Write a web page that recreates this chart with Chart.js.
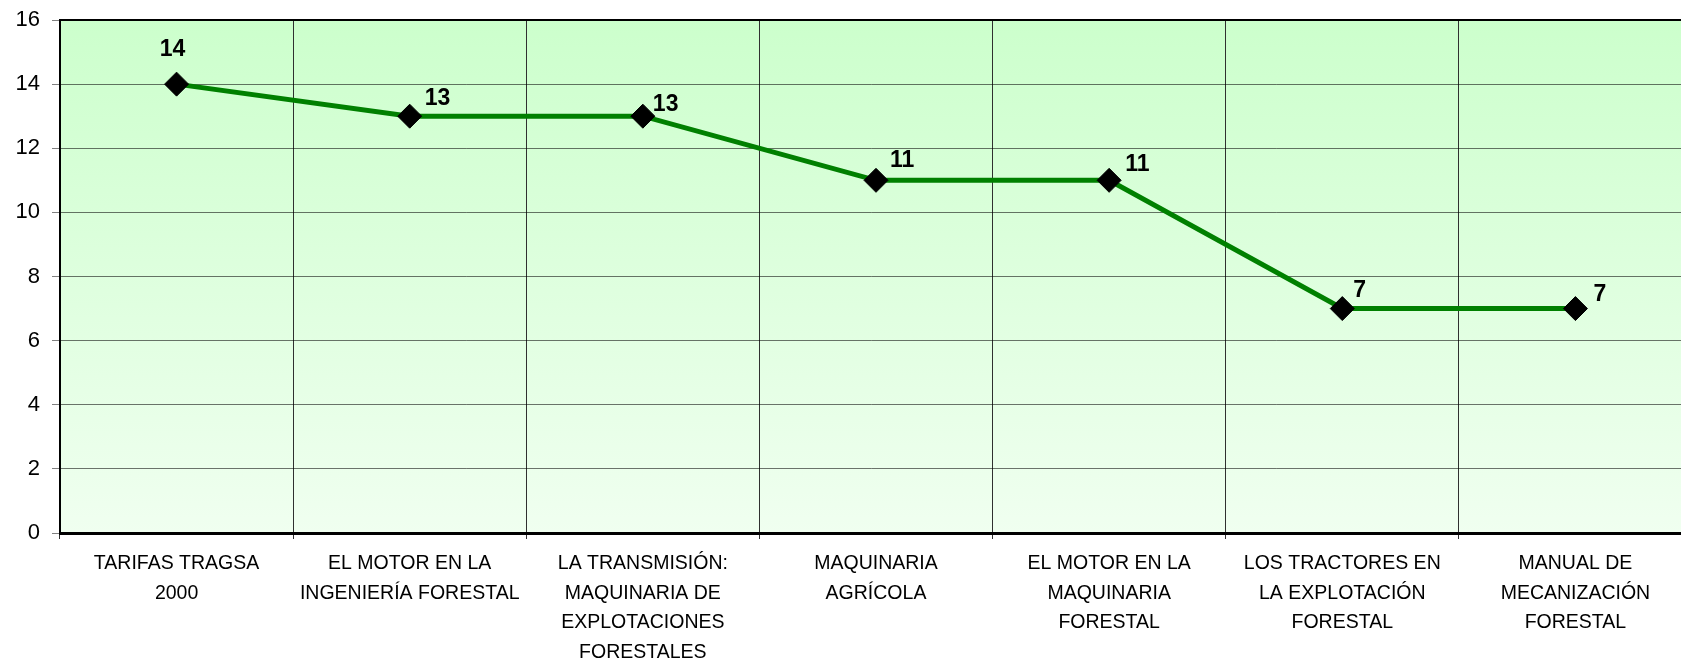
<!DOCTYPE html>
<html>
<head>
<meta charset="utf-8">
<script src="https://cdn.jsdelivr.net/npm/chart.js@4"></script>
<style>
  html, body { margin: 0; padding: 0; background: #fff; overflow: hidden; }
  #graphique { display: block; width: 1681px; height: 666px; }
</style>
</head>
<body>
<canvas id="graphique" width="1681" height="666"></canvas>
<script>
  const categorias = [
    ["TARIFAS TRAGSA", "2000"],
    ["EL MOTOR EN LA", "INGENIERÍA FORESTAL"],
    ["LA TRANSMISIÓN:", "MAQUINARIA DE", "EXPLOTACIONES", "FORESTALES"],
    ["MAQUINARIA", "AGRÍCOLA"],
    ["EL MOTOR EN LA", "MAQUINARIA", "FORESTAL"],
    ["LOS TRACTORES EN", "LA EXPLOTACIÓN", "FORESTAL"],
    ["MANUAL DE", "MECANIZACIÓN", "FORESTAL"]
  ];
  const valores = [14, 13, 13, 11, 11, 7, 7];
  const ticksY = [0, 2, 4, 6, 8, 10, 12, 14, 16];

  // el área de trazado original sigue más allá del borde derecho (recortada)
  const recorte = {
    id: "recorte",
    afterLayout(chart, args, opts) {
      const x = chart.scales.x;
      const w = opts.ancho;
      x.right = x.left + w;
      x.width = w;
      chart.chartArea.right = x.right;
      chart.chartArea.width = w;
      x.configure();
    }
  };

  // fondo degradado y borde superior del área de trazado
  const fondo = {
    id: "fondo",
    beforeDraw(chart) {
      const { ctx, chartArea: a } = chart;
      const g = ctx.createLinearGradient(0, a.top, 0, a.bottom);
      g.addColorStop(0, "#ccffcc");
      g.addColorStop(1, "#f0fff0");
      ctx.save();
      ctx.fillStyle = g;
      ctx.fillRect(a.left, a.top, a.right - a.left, a.bottom - a.top);
      ctx.restore();
    },
    afterDraw(chart) {
      const { ctx, chartArea: a } = chart;
      ctx.save();
      ctx.strokeStyle = "#000";
      ctx.lineWidth = 2;
      ctx.beginPath();
      ctx.moveTo(a.left, a.top);
      ctx.lineTo(a.right, a.top);
      ctx.stroke();
      ctx.restore();
    }
  };

  // etiquetas de valor junto a cada punto
  const etiquetas = {
    id: "etiquetas",
    afterDatasetsDraw(chart, args, opts) {
      const { ctx } = chart;
      const meta = chart.getDatasetMeta(0);
      ctx.save();
      ctx.font = "bold 23px 'Liberation Sans', Arial, sans-serif";
      ctx.fillStyle = "#000";
      ctx.textBaseline = "middle";
      meta.data.forEach((p, i) => {
        const o = opts.offsets[i];
        ctx.textAlign = o[2];
        ctx.fillText(String(valores[i]), p.x + o[0], p.y + o[1]);
      });
      ctx.restore();
    }
  };

  const ctx = document.getElementById("graphique").getContext("2d");
  new Chart(ctx, {
    type: "line",
    data: {
      labels: categorias,
      datasets: [{
        data: valores,
        borderColor: "#008000",
        borderWidth: 5,
        pointStyle: "rectRot",
        pointRadius: 12,
        pointBackgroundColor: "#000",
        pointBorderColor: "#000",
        pointBorderWidth: 1,
        tension: 0,
        fill: false
      }]
    },
    options: {
      responsive: false,
      animation: false,
      devicePixelRatio: 1,
      layout: { padding: { top: 20, right: 0, left: 0, bottom: 0 } },
      plugins: {
        legend: { display: false },
        tooltip: { enabled: false },
        recorte: { ancho: 1632 },
        etiquetas: {
          offsets: [[-4, -34, "center"], [15, -18, "left"], [10, -12, "left"], [14, -20, "left"],
                    [16, -16, "left"], [11, -18, "left"], [18, -14, "left"]]
        }
      },
      scales: {
        x: {
          offset: true,
          grid: { offset: true, color: "#303030", lineWidth: 1, tickLength: 6, tickColor: "#303030" },
          border: { color: "#000", width: 3 },
          ticks: {
            color: "#000",
            padding: 10,
            maxRotation: 0,
            autoSkip: false,
            font: { family: "'Liberation Sans', Arial, sans-serif", size: 19.5, lineHeight: 1.52 }
          },
          afterFit(s) { s.height = 133; s.paddingLeft = 0; s.paddingRight = 0; }
        },
        y: {
          min: 0,
          max: 16,
          afterBuildTicks(s) { s.ticks = ticksY.map(v => ({ value: v })); },
          grid: { color: "rgba(0,0,0,0.55)", lineWidth: 1, tickLength: 8, tickColor: "#808080" },
          border: { color: "#000", width: 2 },
          ticks: {
            color: "#000",
            padding: 12,
            font: { family: "'Liberation Sans', Arial, sans-serif", size: 22 }
          },
          afterFit(s) { s.width = 60; s.paddingTop = 0; s.paddingBottom = 0; }
        }
      }
    },
    plugins: [recorte, fondo, etiquetas]
  });
</script>
</body>
</html>
